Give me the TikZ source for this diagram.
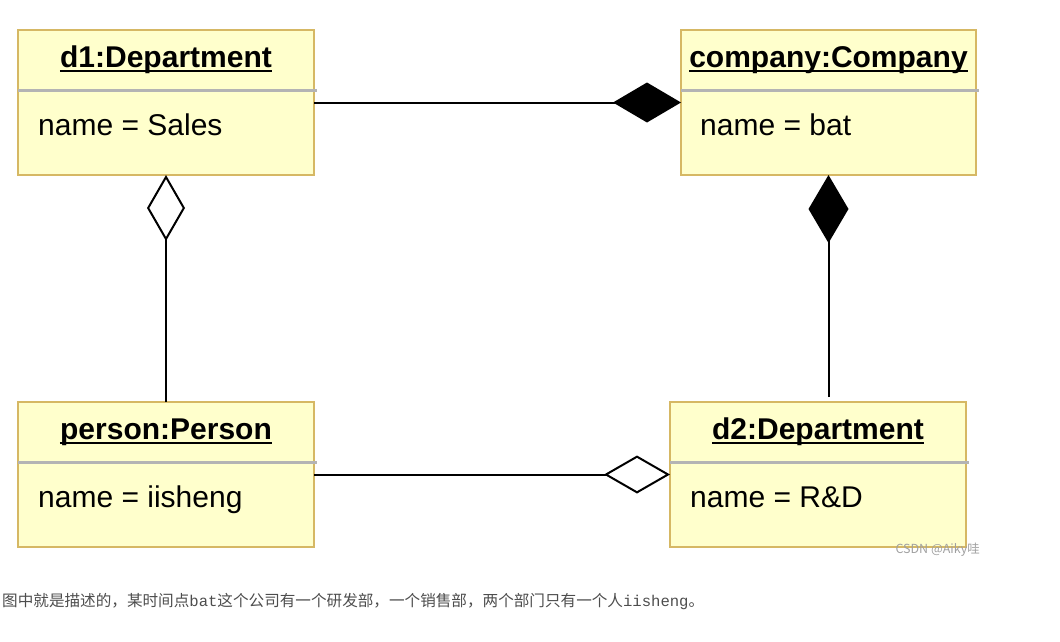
\documentclass[tikz,border=0pt]{standalone}
\usepackage{fontspec}
\setmainfont{Liberation Sans}
\setmonofont{Liberation Mono}
\newfontfamily\cjk{Noto Sans CJK SC}
\usetikzlibrary{arrows.meta}
\definecolor{objfill}{RGB}{255,255,204}
\definecolor{objborder}{RGB}{214,184,100}
\definecolor{sepgray}{RGB}{180,180,180}
\definecolor{captext}{RGB}{77,77,77}
\definecolor{wmgray}{RGB}{160,160,160}
\begin{document}
\begin{tikzpicture}
    [x=1pt,y=-1pt,
     obj/.style={draw=objborder,fill=objfill,line width=2pt,minimum width=296pt,
       minimum height=145pt,inner sep=0pt,outer sep=0pt},
     objtitle/.style={font=\fontsize{30}{36}\selectfont\bfseries,anchor=base,inner sep=0pt},
     objattr/.style={font=\fontsize{30}{36}\selectfont,anchor=base west,inner sep=0pt},
     uline/.style={line width=2pt},
     sepline/.style={draw=sepgray,line width=3pt},
     comp/.style={-{Diamond[length=68pt,width=40pt]},line width=2pt},
     agg/.style={-{Diamond[open,length=66pt,width=38pt,fill=white]},line width=2pt}]
    \useasboundingbox (0,0) rectangle (1060,642);
    % objects
    \node [obj] (d1) at (166,102.5) {};
    \node [objtitle] (d1t) at ([yshift=-37pt]d1.north) {d1:Department};
    \draw [uline] ([yshift=-4pt]d1t.base west) -- ([yshift=-4pt]d1t.base east);
    \draw [sepline] ([yshift=-60pt]d1.north west) -- ([xshift=3pt,yshift=-60pt]d1.north east);
    \node [objattr] (d1a) at ([xshift=20pt,yshift=-105pt]d1.north west) {name = Sales};
    \node [obj,minimum width=295pt] (company) at (828.5,102.5) {};
    \node [objtitle] (companyt) at ([yshift=-37pt]company.north) {company:Company};
    \draw [uline] ([yshift=-4pt]companyt.base west) -- ([yshift=-4pt]companyt.base east);
    \draw [sepline] ([yshift=-60pt]company.north west) -- ([xshift=3pt,yshift=-60pt]company.north east);
    \node [objattr] (companya) at ([xshift=19pt,yshift=-105pt]company.north west) {name = bat};
    \node [obj] (person) at (166,474.5) {};
    \node [objtitle] (persont) at ([yshift=-37pt]person.north) {person:Person};
    \draw [uline] ([yshift=-4pt]persont.base west) -- ([yshift=-4pt]persont.base east);
    \draw [sepline] ([yshift=-60pt]person.north west) -- ([xshift=3pt,yshift=-60pt]person.north east);
    \node [objattr] (persona) at ([xshift=20pt,yshift=-105pt]person.north west) {name = iisheng};
    \node [obj] (d2) at (818,474.5) {};
    \node [objtitle] (d2t) at ([yshift=-37pt]d2.north) {d2:Department};
    \draw [uline] ([yshift=-4pt]d2t.base west) -- ([yshift=-4pt]d2t.base east);
    \draw [sepline] ([yshift=-60pt]d2.north west) -- ([xshift=3pt,yshift=-60pt]d2.north east);
    \node [objattr] (d2a) at ([xshift=20pt,yshift=-105pt]d2.north west) {name = R\&D};
    % links
    \draw [comp] (d1.east) -- (company.west);
    \draw [comp,shorten <=5pt] (company.south |- d2.north) -- (company.south);
    \draw [agg] (person.north) -- (d1.south);
    \draw [agg] (person.east) -- (d2.west);
    % texts
    \node [font=\cjk\fontsize{12.5}{14}\selectfont,text=wmgray,anchor=base east,inner sep=0pt]
      (wm) at (980,553) {CSDN @Aiky哇};
    \node [font=\cjk\fontsize{15.6}{18}\selectfont,text=captext,anchor=base west,inner sep=0pt]
      (cap) at (2,606) {图中就是描述的，某时间点{\ttfamily bat}这个公司有一个研发部，一个销售部，两个部门只有一个人{\ttfamily iisheng}。};
\end{tikzpicture}
\end{document}
